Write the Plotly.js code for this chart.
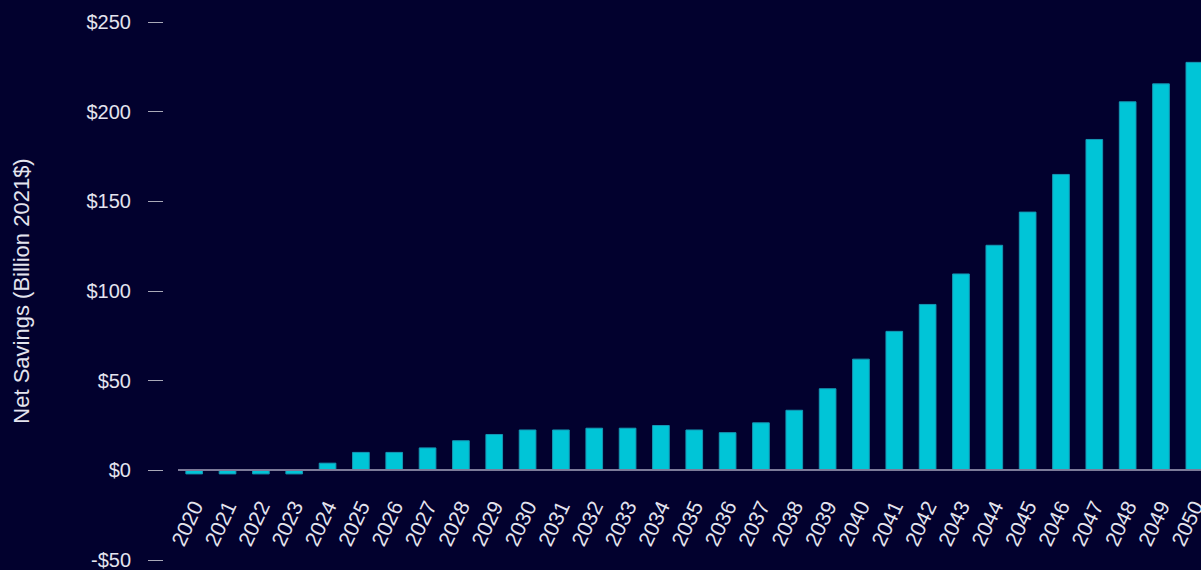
<!DOCTYPE html>
<html>
<head>
<meta charset="utf-8">
<script src="https://cdn.plot.ly/plotly-3.0.1.min.js"></script>
<style>
  html, body { margin: 0; padding: 0; background: #02012e; overflow: hidden; }
  #chart { width: 1201px; height: 570px; }
</style>
</head>
<body>
<div id="chart"></div>
<script>
const years = ['2020','2021','2022','2023','2024','2025','2026','2027','2028','2029',
  '2030','2031','2032','2033','2034','2035','2036','2037','2038','2039',
  '2040','2041','2042','2043','2044','2045','2046','2047','2048','2049','2050'];
const netSavings = [-2, -2, -2, -2, 4, 10, 10, 12.5, 16.5, 20,
  22.5, 22.5, 23.5, 23.5, 25, 22.5, 21, 26.5, 33.5, 45.5,
  62, 77.5, 92.5, 109.5, 125.5, 144, 165, 184.5, 205.5, 215.5, 227.5];
const yTickVals = [-50, 0, 50, 100, 150, 200, 250];
const yTickText = ['-$50', '$0', '$50', '$100', '$150', '$200', '$250'];
const yTitle = 'Net Savings (Billion 2021$)';

const bg = '#02012e';
const textColor = '#e4e4ee';
const fontFamily = '"Liberation Sans", Arial, Helvetica, sans-serif';

const trace = {
  type: 'bar',
  x: years,
  y: netSavings,
  width: 0.5,
  marker: { color: '#00c5d7', line: { color: '#1597b3', width: 1 } },
  hoverinfo: 'x+y'
};

const layout = {
  width: 1201,
  height: 570,
  margin: { l: 163, r: 0, t: 22, b: 10, pad: 0 },
  paper_bgcolor: bg,
  plot_bgcolor: bg,
  font: { family: fontFamily, color: textColor },
  showlegend: false,
  xaxis: {
    type: 'category',
    range: [-0.5, 30.2],
    domain: [0.014, 1],
    anchor: 'free',
    position: 50 / 300,
    showline: true,
    linecolor: '#7c7b99',
    linewidth: 2,
    ticks: '',
    tickangle: -65,
    ticklabelstandoff: 15,
    ticklabeloverflow: 'allow',
    tickfont: { size: 21, color: textColor, family: fontFamily },
    showgrid: false,
    zeroline: false,
    fixedrange: true
  },
  yaxis: {
    range: [-50, 250],
    domain: [0, 1],
    anchor: 'free',
    position: 0,
    tickmode: 'array',
    tickvals: yTickVals,
    ticktext: yTickText,
    ticks: 'outside',
    ticklen: 15,
    tickwidth: 1,
    tickcolor: '#a9a9b8',
    ticklabelstandoff: 13,
    ticklabeloverflow: 'allow',
    tickfont: { size: 20, color: textColor, family: fontFamily },
    showline: false,
    showgrid: false,
    zeroline: false,
    fixedrange: true,
    title: { text: yTitle, font: { size: 22, color: textColor, family: fontFamily }, standoff: 49 }
  }
};

Plotly.newPlot('chart', [trace], layout, { displayModeBar: false, staticPlot: true });
</script>
</body>
</html>
